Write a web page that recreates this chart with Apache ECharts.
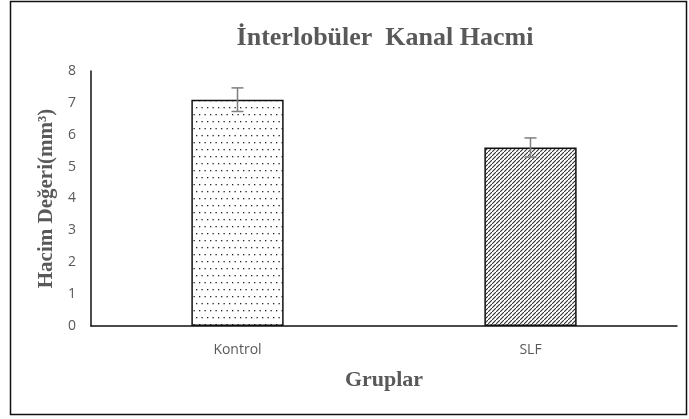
<!DOCTYPE html>
<html><head><meta charset="utf-8">
<script src="https://cdn.jsdelivr.net/npm/echarts@6/dist/echarts.min.js"></script>
<style>html,body{margin:0;padding:0;background:#fff;}#c{width:689px;height:419px;}</style>
</head><body><div id="c"></div>
<script>
const categories = ['Kontrol', 'SLF'];
const values = [7.1, 5.6];
const errors = [0.37, 0.3];
const yTicks = [0, 1, 2, 3, 4, 5, 6, 7, 8];

function dotPattern() {
  const c = document.createElement('canvas'); c.width = 11; c.height = 14;
  const g = c.getContext('2d');
  g.fillStyle = '#fff'; g.fillRect(0, 0, 11, 14);
  g.fillStyle = '#222';
  g.fillRect(1, 2, 1.3, 1.3);
  g.fillRect(6.5, 2, 1.3, 1.3);
  g.fillRect(3.5, 9, 1.3, 1.3);
  g.fillRect(9, 9, 1.3, 1.3);
  return c;
}
function hatchPattern() {
  const p = 4;
  const c = document.createElement('canvas'); c.width = p; c.height = p;
  const g = c.getContext('2d');
  g.fillStyle = '#fff'; g.fillRect(0, 0, p, p);
  g.strokeStyle = '#333'; g.lineWidth = 1.1;
  g.beginPath();
  g.moveTo(-1, p + 1); g.lineTo(p + 1, -1);
  g.moveTo(-p - 1, 1); g.lineTo(1, -p - 1);
  g.moveTo(p - 1, 2 * p + 1); g.lineTo(2 * p + 1, p - 1);
  g.stroke();
  return c;
}
const fills = [dotPattern(), hatchPattern()];

const chart = echarts.init(document.getElementById('c'), null, {renderer: 'canvas'});
chart.setOption({
  animation: false,
  backgroundColor: '#fff',
  title: {
    text: 'İnterlobüler  Kanal Hacmi', left: 380, top: 20, textAlign: 'center',
    textStyle: {fontFamily: 'Liberation Serif', fontWeight: 'bold', fontSize: 26, color: '#595959'}
  },
  graphic: [{
    type: 'rect', shape: {x: 10.5, y: 1.5, width: 676, height: 413},
    style: {fill: 'none', stroke: '#111', lineWidth: 1.5}, silent: true
  }],
  grid: {left: 91, right: 12, top: 71, bottom: 93},
  xAxis: {
    type: 'category', data: categories,
    name: 'Gruplar', nameLocation: 'middle', nameGap: 43,
    nameTextStyle: {fontFamily: 'Liberation Serif', fontWeight: 'bold', fontSize: 22, color: '#595959'},
    axisLine: {lineStyle: {color: '#111', width: 1.5}},
    axisTick: {show: false},
    axisLabel: {margin: 17, fontFamily: 'Open Sans', fontSize: 14, color: '#595959'}
  },
  yAxis: {
    type: 'value', min: yTicks[0], max: yTicks[yTicks.length - 1], interval: 1,
    name: 'Hacim Değeri(mm³)', nameLocation: 'middle', nameGap: 33,
    nameTextStyle: {fontFamily: 'Liberation Serif', fontWeight: 'bold', fontSize: 21, color: '#595959'},
    axisLine: {show: true, lineStyle: {color: '#111', width: 1.5}},
    axisTick: {show: false},
    splitLine: {show: false},
    axisLabel: {margin: 15, fontFamily: 'Open Sans', fontSize: 14, color: '#595959'}
  },
  series: [{
    type: 'bar', barWidth: '31.5%',
    data: values.map((v, i) => ({
      value: v,
      itemStyle: {color: {image: fills[i], repeat: 'repeat'}, borderColor: '#111', borderWidth: 1.5}
    }))
  }, {
    type: 'custom',
    data: values.map((v, i) => [i, v - errors[i], v + errors[i]]),
    renderItem: function (params, api) {
      const x = api.coord([api.value(0), 0])[0];
      const lo = api.coord([api.value(0), api.value(1)])[1];
      const hi = api.coord([api.value(0), api.value(2)])[1];
      const w = 6;
      const st = {stroke: '#7f7f7f', lineWidth: 1.5};
      return {type: 'group', children: [
        {type: 'line', shape: {x1: x, y1: lo, x2: x, y2: hi}, style: st},
        {type: 'line', shape: {x1: x - w, y1: lo, x2: x + w, y2: lo}, style: st},
        {type: 'line', shape: {x1: x - w, y1: hi, x2: x + w, y2: hi}, style: st}
      ]};
    },
    z: 5
  }]
});
</script></body></html>
